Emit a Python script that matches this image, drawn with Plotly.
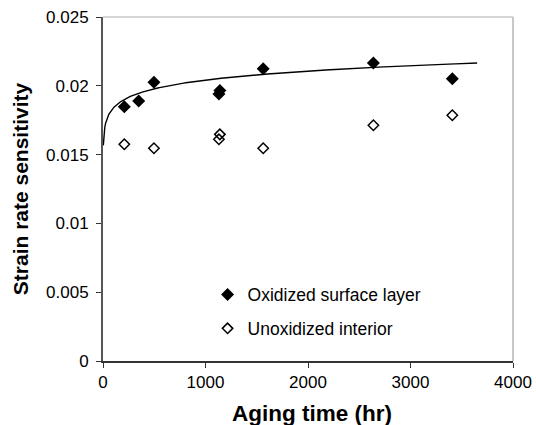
import numpy as np
import plotly.graph_objects as go

# Aging time (hr) and strain rate sensitivity
oxidized_time = [208, 348, 497, 1131, 1140, 1563, 2638, 3408]
oxidized_m = [0.01848, 0.01890, 0.02025, 0.01940, 0.01965, 0.02124, 0.02166, 0.02052]

interior_time = [208, 497, 1131, 1140, 1563, 2638, 3408]
interior_m = [0.01575, 0.01546, 0.01611, 0.01647, 0.01546, 0.01713, 0.01786]

x_ticks = [0, 1000, 2000, 3000, 4000]
y_ticks = [0, 0.005, 0.01, 0.015, 0.02, 0.025]
y_tick_text = ["0", "0.005", "0.01", "0.015", "0.02", "0.025"]

# Power-law trendline m = A * t^B for the oxidized layer
trend_A = 0.01491
trend_B = 0.0455
trend_t_start, trend_t_end = 3, 3650
t_fit = np.linspace(trend_t_start, trend_t_end, 500)
m_fit = trend_A * t_fit ** trend_B

font = "Liberation Sans, Arial, sans-serif"

fig = go.Figure()
fig.add_trace(go.Scatter(x=t_fit, y=m_fit, mode="lines",
                         line=dict(color="black", width=1.4),
                         showlegend=False, hoverinfo="skip"))
fig.add_trace(go.Scatter(x=oxidized_time, y=oxidized_m, mode="markers",
                         name="Oxidized surface layer", legendgroup="a",
                         marker=dict(symbol="diamond", size=10, color="black",
                                     line=dict(color="black", width=0))))
fig.add_trace(go.Scatter(x=interior_time, y=interior_m, mode="markers",
                         name="Unoxidized interior", legendgroup="b",
                         marker=dict(symbol="diamond-open", size=8, color="black",
                                     line=dict(color="black", width=1.5))))

fig.update_layout(
    width=536, height=425,
    margin=dict(l=103, r=23, t=17, b=64, autoexpand=False),
    paper_bgcolor="white", plot_bgcolor="white",
    font=dict(family=font, size=17, color="black"),
    legend=dict(x=0.255, y=0.245, xanchor="left", yanchor="top",
                bgcolor="rgba(0,0,0,0)", font=dict(size=17.5),
                itemwidth=30, tracegroupgap=8),
    xaxis=dict(range=[0, 4000], tickvals=x_ticks, ticks="outside",
               ticklen=5, tickcolor="#333", showgrid=False, zeroline=False,
               showline=True, linecolor="#333", linewidth=1.5,
               mirror=False, tickfont=dict(size=17), automargin=False),
    yaxis=dict(range=[0, 0.025], tickvals=y_ticks, ticktext=y_tick_text,
               ticks="outside", ticklen=5, tickcolor="#333", showgrid=False,
               zeroline=False, showline=True, linecolor="#555", linewidth=2,
               tickfont=dict(size=17), ticklabelstandoff=4, automargin=False,
               title=dict(text="<b>Strain rate sensitivity</b>",
                          font=dict(size=21), standoff=12)),
    annotations=[
        dict(text="<b>Aging time (hr)</b>", xref="paper", yref="paper",
             x=0.51, y=-0.153, xanchor="center", yanchor="middle",
             showarrow=False, font=dict(size=22.5)),
    ],
    shapes=[
        dict(type="line", xref="paper", yref="paper", x0=0, x1=1, y0=1, y1=1,
             line=dict(color="#c8c8c8", width=1.5)),
        dict(type="line", xref="paper", yref="paper", x0=1, x1=1, y0=0, y1=1,
             line=dict(color="#c8c8c8", width=2)),
    ],
)

fig.write_html("out.html")
